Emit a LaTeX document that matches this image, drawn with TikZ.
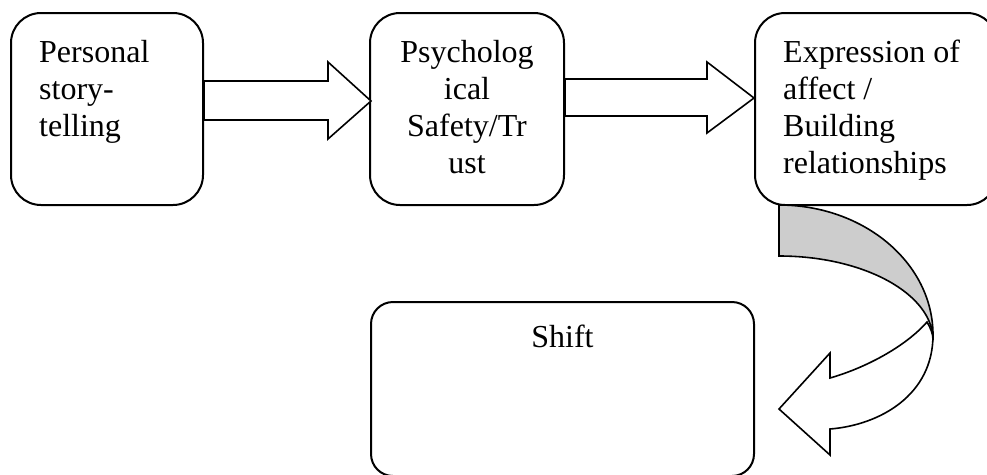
\documentclass[tikz,border=0pt]{standalone}
\usepackage{fontspec}
\setmainfont{Liberation Serif}
\definecolor{bandgray}{RGB}{205,205,205}
\tikzset{
  box/.style={draw=black, line width=2pt, rounded corners=30pt, fill=white, inner sep=0pt},
  shiftbox/.style={draw=black, line width=2pt, rounded corners=22pt, fill=white, inner sep=0pt},
  blockarrow/.style={draw=black, line width=1.6pt, fill=white, line join=miter},
  lbl/.style={inner sep=0pt, font=\fontsize{32}{36.8}\selectfont}
}
\begin{document}
\begin{tikzpicture}[x=1pt, y=-1pt]
\useasboundingbox (0,0) rectangle (987,474);
\clip (0,0) rectangle (987,474);
% boxes
\node[box, minimum width=192pt, minimum height=192pt] (b1) at (107,109) {};
\node[box, minimum width=194pt, minimum height=192pt] (b2) at (467,109) {};
\node[box, minimum width=242pt, minimum height=192pt] (b3) at (876,109) {};
\node[shiftbox, minimum width=383pt, minimum height=174pt] (b4) at (562.5,389) {};
% text box 1
\node[lbl, anchor=base west] (t1a) at (39,62) {Personal};
\node[lbl, anchor=base west] (t1b) at (39,99) {story-};
\node[lbl, anchor=base west] (t1c) at (39,136) {telling};
% text box 2
\node[lbl, anchor=base] (t2a) at (467,62) {Psycholog};
\node[lbl, anchor=base] (t2b) at (467,99) {ical};
\node[lbl, anchor=base] (t2c) at (467,136) {Safety/Tr};
\node[lbl, anchor=base] (t2d) at (467,173) {ust};
% text box 3
\node[lbl, anchor=base west] (t3a) at (783,62) {Expression of};
\node[lbl, anchor=base west] (t3b) at (783,99) {affect /};
\node[lbl, anchor=base west] (t3c) at (783,136) {Building};
\node[lbl, anchor=base west] (t3d) at (783,173) {relationships};
% shift text
\node[lbl, anchor=base] (t4) at (562.5,347) {Shift};
% block arrows
\path[blockarrow] (b1.east |- 0,81) -- (328,81) -- (328,62) -- (371,101) -- (328,139) -- (328,120) -- (b1.east |- 0,120) -- cycle;
\path[blockarrow] (b2.east |- 0,79) -- (707,79) -- (707,62) -- (754,98) -- (707,133) -- (707,116) -- (b2.east |- 0,116) -- cycle;
% curved arrow: back (gray) band
\path[draw=black, line width=1.6pt, fill=bandgray, line join=miter]
  (779,205) .. controls (864,205) and (933,263) .. (933,335)
  -- (933,340) .. controls (933,294) and (864,256) .. (779,256) -- cycle;
% curved arrow: front band with head
\path[draw=black, line width=1.6pt, fill=white, line join=miter]
  (933,335) .. controls (933,395) and (880,425) .. (830,429)
  -- (830,455) -- (779,409) -- (830,353) -- (830,378)
  .. controls (865,368) and (905,347) .. (927,322)
  .. controls (931,329) and (933,334) .. (933,340) -- cycle;
\end{tikzpicture}
\end{document}
